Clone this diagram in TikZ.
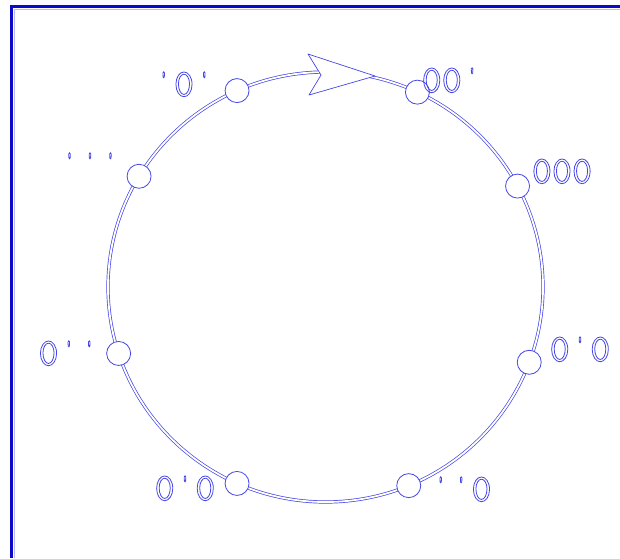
\documentclass[tikz,border=0pt]{standalone}
\usetikzlibrary{calc}
\definecolor{lineblue}{RGB}{70,70,230}
\definecolor{frameblue}{RGB}{10,10,200}
\definecolor{framelight}{RGB}{185,185,245}
\newcommand{\outl}[1]{\special{pdf:literal direct 1 Tr 0.8 w}#1\special{pdf:literal direct 0 Tr}}
\newcommand{\ap}{\makebox[0.525em]{\raisebox{12pt}{\fontsize{20}{20}\selectfont'}}}
\begin{document}
\begin{tikzpicture}[x=1pt,y=-1pt,
  ring/.style={draw=lineblue, line width=0.7pt, double=white, double distance=1.8pt},
  state/.style={circle, draw=lineblue, line width=0.8pt, fill=white, minimum size=24pt, inner sep=0pt},
  lab/.style={text=lineblue, font=\fontsize{39}{41}\selectfont\ttfamily, inner sep=0pt, text height=24.5pt, text depth=0pt},
  headc/.style={draw=lineblue, line width=0.7pt, fill=white, line join=round}]
\useasboundingbox (0,0) rectangle (620,558);
\fill[white] (0,0) rectangle (620,558);
\draw[framelight, line width=1pt] (14,558) -- (14,9) -- (620,9);
\draw[frameblue, line width=3pt] (11.5,558) -- (11.5,6.5) -- (620,6.5);
\coordinate (c) at (325.5,287);
\draw[ring] (c) ellipse [x radius=217.5, y radius=215];
\draw[headc] (375,76) -- (308,54) -- (321,75) -- (309,95) -- cycle;
\foreach \n/\t in {n1/114, n2/65, n3/28, n4/-20.5, n5/-67.5, n6/-114, n7/-162, n8/149}
  \node[state] (\n) at ($(c)+({217.5*cos(\t)},{-215*sin(\t)})$) {};
\node[lab] (l1) at (184,84) {\outl{\ap0\ap}};
\node[lab] (l2) at (452,80) {\outl{00\ap}};
\node[lab] (l3) at (562,171) {\outl{000}};
\node[lab] (l4) at (580,349) {\outl{0\ap0}};
\node[lab] (l5) at (461,489) {\outl{\ap\ap0}};
\node[lab] (l6) at (185,488) {\outl{0\ap0}};
\node[lab] (l7) at (69,353) {\outl{0\ap\ap}};
\node[lab] (l8) at (90,165) {\outl{\ap\ap\ap}};
\end{tikzpicture}
\end{document}
